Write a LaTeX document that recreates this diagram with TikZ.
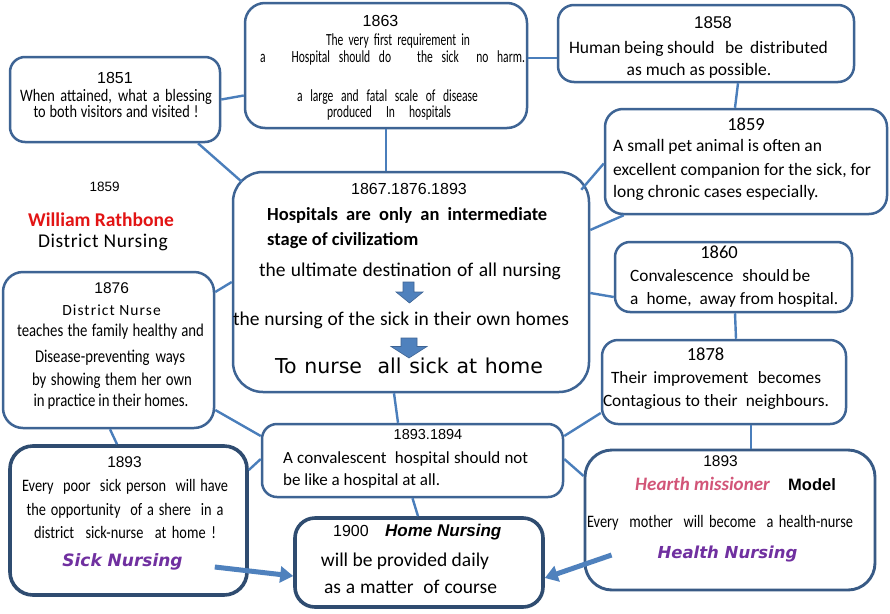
\documentclass[tikz,border=0pt]{standalone}
\usepackage{fontspec}
\setmainfont{Carlito}
\newfontfamily\calB{Carlito}[FakeStretch=0.82]
\newfontfamily\calC{Carlito}[FakeStretch=0.68]
\newfontfamily\arl{Liberation Sans}
\newfontfamily\vrd{DejaVu Sans}
\usetikzlibrary{arrows.meta}
\definecolor{boxC}{RGB}{62,100,148}
\definecolor{darkC}{RGB}{47,76,112}
\definecolor{connC}{RGB}{74,126,187}
\definecolor{arrC}{RGB}{79,129,189}
\definecolor{purp}{RGB}{112,48,160}
\definecolor{pinkC}{RGB}{210,85,120}
\definecolor{redC}{RGB}{226,20,20}
\newcommand\fs[1]{\fontsize{#1}{#1}\selectfont}
\newcommand\sw[2]{\makebox[#1pt][s]{#2}}
\tikzset{
  box/.style={draw=boxC, line width=2.5pt, fill=white, rounded corners=16pt, inner sep=0pt},
  darkbox/.style={box, draw=darkC, line width=3.6pt},
  conn/.style={draw=connC, line width=2.4pt},
  bigarrow/.style={draw=arrC, line width=5pt, -{Triangle[length=13pt,width=16pt]}},
  blockarrow/.style={fill=arrC, draw=boxC, line width=0.6pt},
  tx/.style={inner sep=0pt, anchor=base},
  txl/.style={inner sep=0pt, anchor=base west},
  tight/.style={text height=10pt, text depth=2pt},
}
\begin{document}
\begin{tikzpicture}[x=1pt,y=-1pt]
\fill[white] (0,0) rectangle (890,613);
\useasboundingbox (0,0) rectangle (890,613);

% ---------- boxes ----------
\node[box, minimum width=210pt, minimum height=85pt, rounded corners=15pt] (b1851) at (115,99.5) {};
\node[box, minimum width=282pt, minimum height=125pt, rounded corners=20pt] (b1863) at (386,65.5) {};
\node[box, minimum width=296pt, minimum height=77pt, rounded corners=16pt] (b1858) at (706,43.5) {};
\node[box, minimum width=282pt, minimum height=105pt, rounded corners=18pt] (b1859) at (746,161.5) {};
\node[box, minimum width=356pt, minimum height=220pt, rounded corners=30pt] (bcen) at (411,282) {};
\node[box, minimum width=211pt, minimum height=156pt, rounded corners=20pt] (b1876) at (108.5,350) {};
\node[box, minimum width=237pt, minimum height=70pt, rounded corners=15pt] (b1860) at (733.5,277) {};
\node[box, minimum width=244pt, minimum height=84pt, rounded corners=16pt] (b1878) at (724,382) {};
\node[box, minimum width=301pt, minimum height=73pt, rounded corners=15pt] (b9394) at (412.5,460.5) {};
\node[darkbox, minimum width=237pt, minimum height=149pt, rounded corners=23pt] (bL1893) at (128.5,520.5) {};
\node[darkbox, minimum width=248pt, minimum height=89pt, rounded corners=20pt] (b1900) at (419,562.5) {};
\node[box, draw=boxC!90!black, line width=2.9pt, minimum width=290pt, minimum height=140pt, rounded corners=27pt] (bR1893) at (730,520) {};

% ---------- connectors ----------
\draw[conn] ([xshift=83pt]b1851.south) -- ([xshift=10pt,yshift=-11pt]bcen.north west);
\draw[conn] (b1851.east) -- ([yshift=-30pt]b1863.west);
\draw[conn] (b1863.south) -- (b1863.south |- bcen.north);
\draw[conn] ([yshift=7.5pt]b1863.east) -- ([yshift=-14.5pt]b1858.west);
\draw[conn] ([xshift=32pt]b1858.south) -- ([xshift=-11pt]b1859.north);
\draw[conn] ([yshift=-2pt]b1859.west) -- ([xshift=-9pt,yshift=-19pt]bcen.north east);
\draw[conn] ([xshift=20pt]b1859.south west) -- ([yshift=52pt]bcen.east);
\draw[conn] ([yshift=-11pt]bcen.east) -- ([yshift=-20pt]b1860.west);
\draw[conn] ([xshift=1.5pt]b1860.south) -- ([xshift=12pt]b1878.north);
\draw[conn] ([yshift=58pt]b1876.east) -- (bcen.west);
\draw[conn] ([yshift=-60pt]b1876.east) -- ([yshift=24.5pt]b9394.west);
\draw[conn] ([xshift=1.5pt]b1876.south) -- ([xshift=-11.5pt]bL1893.north);
\draw[conn] ([yshift=50.5pt]bL1893.east) -- ([yshift=1.5pt]b9394.west);
\draw[conn] ([xshift=-17pt]bcen.south) -- ([xshift=-14.5pt]b9394.north);
\draw[conn] ([yshift=24.5pt]b9394.east) -- ([yshift=-31pt]b1878.west);
\draw[conn] ([yshift=1.5pt]b9394.east) -- ([yshift=44pt]bR1893.west);
\draw[conn] (b9394.south) -- ([xshift=-1pt]b1900.north);
\draw[conn] ([xshift=27pt]b1878.south) -- ([xshift=21pt]bR1893.north);
\draw[bigarrow] ([xshift=-34pt,yshift=-46.5pt]bL1893.east) -- ([yshift=-13.5pt]b1900.west);
\draw[bigarrow] ([xshift=28pt,yshift=-35pt]bR1893.west) -- ([yshift=-15.5pt]b1900.east);

% ---------- block arrows in the centre box ----------
\path[blockarrow] (403,282) -- (414,282) -- (414,292) -- (423,292) -- (409.5,303) -- (396,292) -- (403,292) -- cycle;
\path[blockarrow] (401,338) -- (417,338) -- (417,346.5) -- (427,346.5) -- (409,358) -- (391,346.5) -- (401,346.5) -- cycle;

% ---------- texts ----------
% 1851
\node[tx, font={\arl\fs{16}}] (t1851a) at (115,83) {1851};
\node[tx, tight, font={\calB\fs{17.5}}] (t1851b) at (116,101) {\sw{192}{When attained, what a blessing}};
\node[tx, tight, font={\calB\fs{17.5}}] (t1851c) at (116,117) {\sw{165}{to both visitors and visited !}};
% 1863
\node[tx, font={\arl\fs{16}}] (t1863a) at (380.5,26.7) {1863};
\node[tx, tight, font={\calC\fs{17}}] (t1863b) at (398,45.5) {\sw{144}{The very first requirement in}};
\node[tx, tight, font={\calC\fs{17}}] (t1863c) at (392.5,62.5) {\sw{265}{a~~~Hospital should do~~~the sick~~no harm.}};
\node[tx, tight, font={\calC\fs{17}}] (t1863d) at (387.5,101) {\sw{181}{a large and fatal scale of disease}};
\node[tx, tight, font={\calC\fs{17}}] (t1863e) at (389,117.5) {\sw{124}{produced In hospitals}};
% 1858
\node[tx, font={\arl\fs{17}}] (t1858a) at (713,28.3) {1858};
\node[tx, font={\fs{17.5}}] (t1858b) at (698.5,53.3) {\sw{259}{Human being should~~~be~~distributed}};
\node[tx, font={\fs{17.5}}] (t1858c) at (699,75) {as much as possible.};
% 1859 right
\node[tx, font={\fs{18.5}}] (t1859a) at (746,130) {1859};
\node[txl, font={\fs{17.5}}] (t1859b) at (613,151.7) {A small pet animal is often an};
\node[txl, font={\fs{17.5}}] (t1859c) at (613,175) {excellent companion for the sick, for};
\node[txl, font={\fs{17.5}}] (t1859d) at (613,197.3) {long chronic cases especially.};
% standalone 1859
\node[tx, font={\arl\fs{13.5}}] (tWRa) at (104.7,191.7) {1859};
\node[tx, font={\bfseries\fs{19.5}}, text=redC] (tWRb) at (101,226.7) {William Rathbone};
\node[tx, font={\fs{19.5}\addfontfeature{LetterSpace=3}}] (tWRc) at (103,247) {District Nursing};
% centre
\node[tx, font={\arl\fs{16}}] (tcena) at (409,194.3) {1867.1876.1893};
\node[txl, font={\bfseries\fs{18.5}}] (tcenb) at (267,220) {\sw{280}{Hospitals are only an intermediate}};
\node[txl, font={\bfseries\fs{18.5}}] (tcenc) at (267,245) {stage of civilizatiom};
\node[tx, font={\fs{19.5}}] (tcend) at (410,276.7) {\sw{302}{the ultimate destination of all nursing}};
\node[tx, font={\fs{19.5}}] (tcene) at (401,325) {\sw{336}{the nursing of the sick in their own homes}};
\node[tx, font={\vrd\fs{20.5}}] (tcenf) at (409,373.3) {\sw{268}{To nurse~~all sick at home}};
% 1876
\node[tx, font={\arl\fs{15.5}}] (t1876a) at (111.7,293.3) {1876};
\node[tx, font={\fs{15.5}\addfontfeature{LetterSpace=7}}] (t1876b) at (111.5,315) {District Nurse};
\node[tx, font={\calB\fs{18}}] (t1876c) at (110.5,336.7) {\sw{187}{teaches the family healthy and}};
\node[tx, font={\calB\fs{18}}] (t1876d) at (110,362.7) {\sw{150}{Disease-preventing ways}};
\node[tx, font={\calB\fs{18}}] (t1876e) at (112,385) {\sw{160}{by showing them her own}};
\node[tx, font={\calB\fs{18}}] (t1876f) at (111,406.7) {\sw{155}{in practice in their homes.}};
% 1860
\node[tx, font={\fs{18.5}}] (t1860a) at (719,258) {1860};
\node[txl, font={\fs{17.3}}] (t1860b) at (630,281.7) {\sw{180}{Convalescence~~~should be}};
\node[txl, font={\fs{17.3}}] (t1860c) at (630,304) {\sw{208}{a~~home,~~away from hospital.}};
% 1878
\node[tx, font={\fs{18.5}}] (t1878a) at (705.5,360.7) {1878};
\node[tx, font={\fs{17.3}}] (t1878b) at (716,383.3) {\sw{210}{Their~~improvement~~~becomes}};
\node[tx, font={\fs{17.3}}] (t1878c) at (716,406) {\sw{226}{Contagious to their~~neighbours.}};
% 1893.1894
\node[tx, font={\arl\fs{14.5}}] (t9394a) at (428,439.3) {1893.1894};
\node[txl, font={\fs{17}}] (t9394b) at (283,463.3) {\sw{245}{A convalescent~~hospital should not}};
\node[txl, font={\fs{17}}] (t9394c) at (283,485) {be like a hospital at all.};
% left 1893
\node[tx, font={\arl\fs{15.5}}] (tL1893a) at (124.5,467.3) {1893};
\node[tx, font={\calB\fs{17.5}}] (tL1893b) at (125,491.7) {\sw{206}{Every~~poor~~sick person~~will have}};
\node[tx, font={\calB\fs{17.5}}] (tL1893c) at (125,515) {\sw{197}{the opportunity~~of a shere~~in a}};
\node[tx, font={\calB\fs{17.5}}] (tL1893d) at (125,538.3) {\sw{182}{district~~sick-nurse~~at home !}};
\node[tx, font={\vrd\bfseries\itshape\fs{17}}, text=purp] (tL1893e) at (122.5,566.7) {Sick Nursing};
% right 1893
\node[tx, font={\arl\fs{15.5}}] (tR1893a) at (720.5,466.7) {1893};
\node[txl, font={\bfseries\itshape\fs{19}}, text=pinkC] (tR1893b) at (635,490.7) {Hearth missioner};
\node[txl, font={\arl\bfseries\fs{16.5}}] (tR1893c) at (788,490.7) {Model};
\node[tx, font={\calB\fs{17.5}}] (tR1893d) at (720,527.3) {\sw{266}{Every~~mother~~will become~~a health-nurse}};
\node[tx, font={\vrd\bfseries\itshape\fs{16.5}}, text=purp] (tR1893e) at (727.5,558.3) {Health Nursing};
% 1900
\node[txl, font={\arl\fs{16}}] (t1900a) at (333,536.7) {1900};
\node[txl, font={\arl\bfseries\itshape\fs{17}}] (t1900b) at (385,536.7) {Home Nursing};
\node[tx, font={\fs{19.5}}] (t1900c) at (405,566.7) {will be provided daily};
\node[tx, font={\fs{19.5}}] (t1900d) at (410.5,593.3) {\sw{173}{as a matter~~of course}};
\end{tikzpicture}
\end{document}
